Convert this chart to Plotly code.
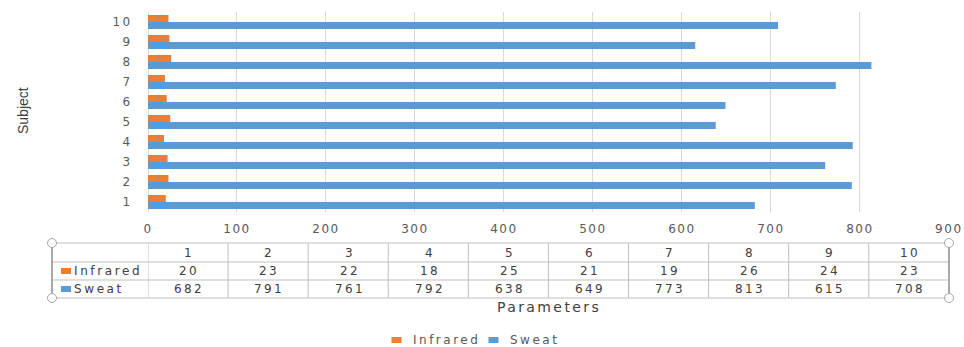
import plotly.graph_objects as go

# ---- data ----
subjects = [1, 2, 3, 4, 5, 6, 7, 8, 9, 10]
infrared = [20, 23, 22, 18, 25, 21, 19, 26, 24, 23]
sweat = [682, 791, 761, 792, 638, 649, 773, 813, 615, 708]
x_ticks = [0, 100, 200, 300, 400, 500, 600, 700, 800, 900]
series_names = ["Infrared", "Sweat"]

ORANGE = "#ED7D31"
BLUE = "#5B9BD5"
GRID = "#D9D9D9"
TXT = "#595959"
TXT_DARK = "#404040"
FONT = "DejaVu Sans"

W, H = 964, 347
L, R, T, B = 148, 949, 12, 212     # plot box in pixels
X_MAX = 900
COL_W = X_MAX / len(subjects)      # table column width in axis units


def spaced(s, px=2.4):
    return f'<span style="letter-spacing:{px}px">{s}</span>'


def pxx(p):
    return (p - L) / (R - L)


def pxy(p):
    return (B - p) / (B - T)


fig = go.Figure()
# Sweat first so it sits below Infrared inside each group
fig.add_trace(go.Bar(y=subjects, x=sweat, orientation="h", name="Sweat",
                     marker=dict(color=BLUE, line=dict(width=0))))
fig.add_trace(go.Bar(y=subjects, x=infrared, orientation="h", name="Infrared",
                     marker=dict(color=ORANGE, line=dict(width=0))))

shapes = []
annotations = []


def label(x, y, text, font, xref="paper", xanchor="center", **kw):
    annotations.append(dict(x=x, y=y, xref=xref, yref="paper", text=text,
                            showarrow=False, xanchor=xanchor, yanchor="middle",
                            font=font, **kw))


def swatch(cx, cy, color, w=10, h=6):
    shapes.append(dict(type="rect", xref="paper", yref="paper",
                       xsizemode="pixel", ysizemode="pixel",
                       xanchor=pxx(cx), yanchor=cy,
                       x0=-w / 2, x1=w / 2, y0=-h / 2, y1=h / 2,
                       fillcolor=color, line=dict(width=0)))


# ---- data table under the axis ----
row_lines = [243, 262, 280, 298]
for yy in row_lines:
    shapes.append(dict(type="line", xref="paper", yref="paper",
                       x0=pxx(52), x1=pxx(R), y0=pxy(yy), y1=pxy(yy),
                       line=dict(color="#BFBFBF", width=1), layer="above"))
for k in range(len(subjects)):
    shapes.append(dict(type="line", xref="x", yref="paper",
                       x0=k * COL_W, x1=k * COL_W, y0=pxy(243), y1=pxy(298),
                       line=dict(color="#BFBFBF", width=1)))
# outer frame sides with corner handles
for xx in (52, R):
    shapes.append(dict(type="line", xref="paper", yref="paper",
                       x0=pxx(xx), x1=pxx(xx), y0=pxy(243), y1=pxy(298),
                       line=dict(color="#8C8C8C", width=1.5)))
    for yy in (243, 298):
        shapes.append(dict(type="circle", xref="paper", yref="paper",
                           xsizemode="pixel", ysizemode="pixel",
                           xanchor=pxx(xx), yanchor=pxy(yy),
                           x0=-4.5, x1=4.5, y0=-4.5, y1=4.5,
                           fillcolor="white", line=dict(color="#A6A6A6", width=1)))

row_y = {"head": pxy(253), "Infrared": pxy(271), "Sweat": pxy(289)}
cell_font = dict(family=FONT, size=12, color=TXT_DARK)
for k, s in enumerate(subjects):
    cx = k * COL_W + COL_W / 2 + 1.5
    label(cx, row_y["head"], spaced(str(s)), cell_font, xref="x")
    label(cx, row_y["Infrared"], spaced(str(infrared[k])), cell_font, xref="x")
    label(cx, row_y["Sweat"], spaced(str(sweat[k])), cell_font, xref="x")

for name, color in zip(series_names, [ORANGE, BLUE]):
    yc = row_y[name]
    swatch(66, yc, color)
    label(pxx(72), yc, spaced(name, 2.6), cell_font, xanchor="left")

# ---- axis titles ----
label(pxx((L + R) / 2), pxy(307), spaced("Parameters", 2.4),
      dict(family=FONT, size=14, color=TXT_DARK))
label(pxx(23), pxy(111), "Subject",
      dict(family="Liberation Sans Narrow, Liberation Sans", size=14, color=TXT_DARK),
      textangle=-90)

# ---- legend ----
legend_items = [(series_names[0], ORANGE, 396.5, 411), (series_names[1], BLUE, 493.5, 508)]
for name, color, sq, tx in legend_items:
    swatch(sq, pxy(340), color)
    label(pxx(tx), pxy(340), spaced(name, 2.5),
          dict(family=FONT, size=12, color=TXT), xanchor="left")

fig.update_layout(
    width=W, height=H, autosize=False,
    margin=dict(l=L, r=W - R, t=T, b=H - B, pad=0),
    paper_bgcolor="white", plot_bgcolor="white",
    barmode="group", bargap=0.3, bargroupgap=0,
    showlegend=False,
    shapes=shapes, annotations=annotations,
    xaxis=dict(range=[0, X_MAX + 0.2], tickvals=x_ticks,
               ticktext=[spaced(str(v), 1.5) for v in x_ticks],
               showgrid=True, gridcolor=GRID, gridwidth=1,
               zeroline=True, zerolinecolor=GRID, zerolinewidth=1,
               showline=False, ticks="outside", ticklen=6, tickcolor="rgba(0,0,0,0)",
               tickfont=dict(family=FONT, size=12, color=TXT), fixedrange=True,
               automargin=False),
    yaxis=dict(range=[0.5, 10.5], tickvals=subjects,
               ticktext=[spaced(str(v)) for v in subjects],
               showgrid=False, zeroline=False, showline=False,
               ticks="outside", ticklen=12, tickcolor="rgba(0,0,0,0)",
               tickfont=dict(family=FONT, size=12, color=TXT), fixedrange=True,
               automargin=False),
)

fig.write_html("out.html")
